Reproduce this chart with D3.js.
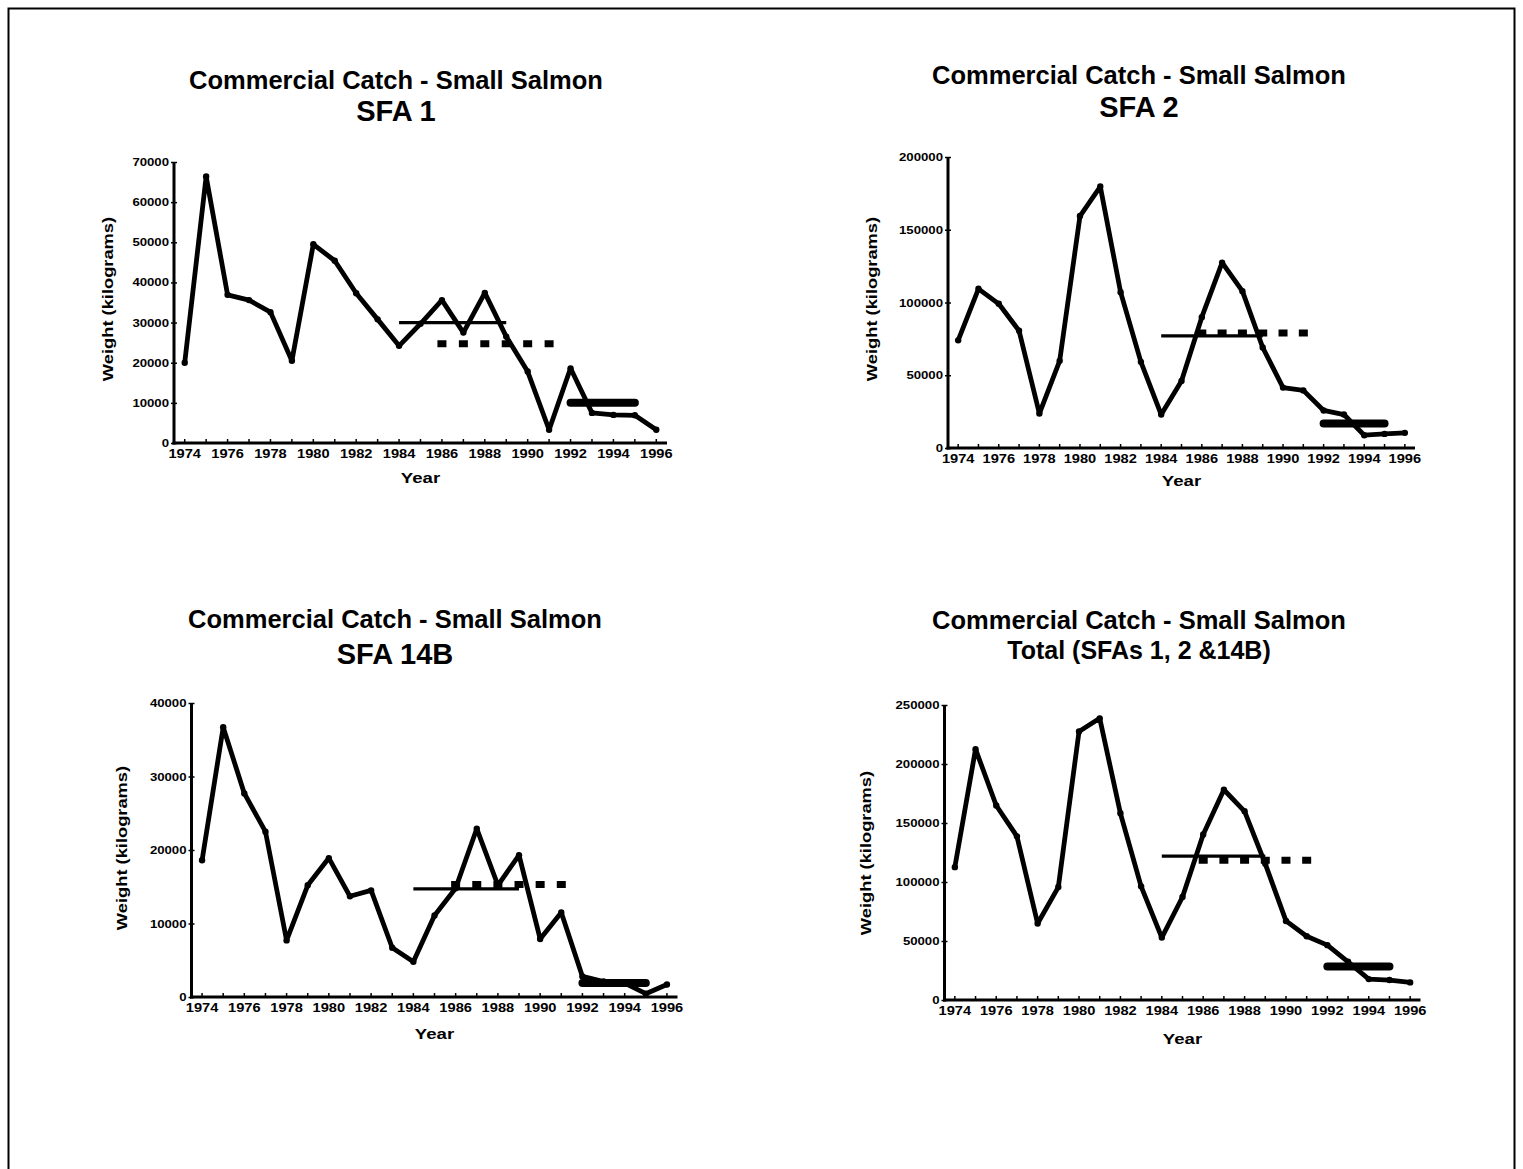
<!DOCTYPE html>
<html>
<head>
<meta charset="utf-8">
<script src="https://cdn.jsdelivr.net/npm/d3@7"></script>
<style>
  body { margin: 0; background: #fff; }
  svg { display: block; }
  text { font-family: "Liberation Sans", Arial, sans-serif; font-weight: bold; fill: #000; }
</style>
</head>
<body>
<svg id="chart" width="1523" height="1169"></svg>
<script>
// Commercial catch of small salmon, kg per year
const years = [1974, 1975, 1976, 1977, 1978, 1979, 1980, 1981, 1982, 1983, 1984, 1985,
               1986, 1987, 1988, 1989, 1990, 1991, 1992, 1993, 1994, 1995, 1996];
const yearLabels = ["1974", "1976", "1978", "1980", "1982", "1984", "1986", "1988", "1990", "1992", "1994", "1996"];

const sfa1   = [20000, 66400, 36900, 35600, 32600, 20500, 49500, 45400, 37300, 30800, 24200, 29700,
                35600, 27500, 37400, 26500, 17800, 3300, 18600, 7500, 7000, 6900, 3300];
const sfa2   = [74000, 109400, 99100, 80600, 23700, 59900, 159400, 179700, 107100, 59200, 23000, 46100,
                89900, 127400, 107800, 69100, 41500, 39600, 25800, 23000, 8800, 9700, 10400];
const sfa14b = [18600, 36700, 27700, 22500, 7700, 15200, 18900, 13700, 14500, 6700, 4800, 11100,
                14800, 22900, 15200, 19300, 7900, 11500, 2800, 2100, 1900, 450, 1700];
const total  = [112600, 212600, 164800, 138700, 64800, 95700, 227500, 238700, 158200, 96300, 52900, 87300,
                140200, 178200, 159900, 115400, 67000, 54000, 46500, 32400, 17700, 16900, 14900];

// Period averages: 1984-89 (solid), 1986-91 (dotted), 1992-95 (heavy)
const mean1984to1989 = [30000, 77000, 14700, 121900];
const mean1986to1991 = [24700, 79000, 15300, 118500];
const mean1992to1995 = [10000, 16800, 1900, 28400];

const titles    = ["Commercial Catch - Small Salmon", "Commercial Catch - Small Salmon",
                   "Commercial Catch - Small Salmon", "Commercial Catch - Small Salmon"];
const subtitles = ["SFA 1", "SFA 2", "SFA 14B", "Total (SFAs 1, 2 &14B)"];
const yMax  = [70000, 200000, 40000, 250000];
const yStep = [10000, 50000, 10000, 50000];
const series = [sfa1, sfa2, sfa14b, total];

// Panel frames
const layout = [
  { left: 174, right: 667, top: 162, bottom: 443, cx: 396, tY: 89, sY: 121, sSize: 29, wX: 108, wY: 299, yearY: 483 },
  { left: 948, right: 1415, top: 157, bottom: 448, cx: 1139, tY: 84, sY: 117, sSize: 29, wX: 872, wY: 299, yearY: 486 },
  { left: 191.5, right: 677.5, top: 703, bottom: 997, cx: 395, tY: 628, sY: 664, sSize: 29, wX: 122, wY: 848, yearY: 1039 },
  { left: 944.5, right: 1420.5, top: 705, bottom: 1000, cx: 1139, tY: 629, sY: 659, sSize: 25, wX: 866, wY: 853, yearY: 1044 }
];

const svg = d3.select("#chart");

// outer frame
svg.append("rect")
  .attr("x", 8.5).attr("y", 8.5).attr("width", 1506).attr("height", 1200)
  .attr("fill", "none").attr("stroke", "#000").attr("stroke-width", 2);

layout.forEach((L, i) => {
  const g = svg.append("g");
  const x = d3.scaleBand().domain(years).range([L.left, L.right]);
  const cxOf = yr => x(yr) + x.bandwidth() / 2;
  const y = d3.scaleLinear().domain([0, yMax[i]]).range([L.bottom, L.top]);
  const step = x.bandwidth();

  // titles
  g.append("text").attr("x", L.cx).attr("y", L.tY).attr("text-anchor", "middle")
    .style("font-size", "25.5px").text(titles[i]);
  g.append("text").attr("x", L.cx).attr("y", L.sY).attr("text-anchor", "middle")
    .style("font-size", L.sSize + "px").text(subtitles[i]);

  // y axis
  const yAxis = d3.axisLeft(y)
    .tickValues(d3.range(0, yMax[i] + 1, yStep[i]))
    .tickFormat(d3.format("d"))
    .tickSizeOuter(0).tickSizeInner(3).tickPadding(5);
  const ya = g.append("g").attr("transform", `translate(${L.left},0)`).call(yAxis);
  ya.select(".domain").attr("stroke", "#000").attr("stroke-width", 3)
    .attr("d", `M0,${L.top}V${L.bottom + 1.5}`);
  ya.selectAll(".tick line").attr("stroke", "#000").attr("stroke-width", 1.5).attr("x1", 3);
  ya.selectAll(".tick text")
    .style("font-size", "11px").style("font-family", null)
    .attr("transform", "scale(1.2,1)")
    .attr("x", -5 / 1.2);

  // x axis
  const xAxis = d3.axisBottom(x)
    .tickFormat(d => yearLabels.includes(String(d)) ? String(d) : "")
    .tickSizeOuter(0).tickSizeInner(-4).tickPadding(7);
  const xa = g.append("g").attr("transform", `translate(0,${L.bottom})`).call(xAxis);
  xa.select(".domain").attr("stroke", "#000").attr("stroke-width", 3)
    .attr("d", `M${L.left - 1.5},0H${L.right}`);
  xa.selectAll(".tick line").attr("stroke", "#000").attr("stroke-width", 1.5);
  xa.selectAll(".tick text")
    .style("font-size", "12px").style("font-family", null)
    .attr("transform", "scale(1.22,1)")
    .attr("y", 6).attr("dy", "0.71em");

  // axis titles
  g.append("text")
    .attr("transform", `translate(${(L.left + L.right) / 2},${L.yearY}) scale(1.2,1)`)
    .attr("text-anchor", "middle").style("font-size", "15.5px").text("Year");
  g.append("text")
    .attr("transform", `translate(${L.wX},${L.wY}) rotate(-90) scale(1.22,1)`)
    .attr("text-anchor", "middle").attr("dy", "0.35em")
    .style("font-size", "15px").text("Weight (kilograms)");

  // 1984-1989 average, thin solid
  g.append("line")
    .attr("x1", cxOf(1984)).attr("x2", cxOf(1989))
    .attr("y1", y(mean1984to1989[i])).attr("y2", y(mean1984to1989[i]))
    .attr("stroke", "#000").attr("stroke-width", 3.2);

  // 1986-1991 average, square dots one per year
  g.append("line")
    .attr("x1", cxOf(1986) - 4.5).attr("x2", cxOf(1991) + 4.5)
    .attr("y1", y(mean1986to1991[i])).attr("y2", y(mean1986to1991[i]))
    .attr("stroke", "#000").attr("stroke-width", 7)
    .attr("stroke-dasharray", `9,${step - 9}`);

  // 1992-1995 average, heavy bar
  g.append("line")
    .attr("x1", cxOf(1992)).attr("x2", cxOf(1995))
    .attr("y1", y(mean1992to1995[i])).attr("y2", y(mean1992to1995[i]))
    .attr("stroke", "#000").attr("stroke-width", 8).attr("stroke-linecap", "round");

  // catch series
  const data = years.map((yr, k) => ({ yr, v: series[i][k] }));
  g.append("path").datum(data)
    .attr("fill", "none").attr("stroke", "#000").attr("stroke-width", 4.8)
    .attr("stroke-linejoin", "round").attr("stroke-linecap", "round")
    .attr("d", d3.line().x(d => cxOf(d.yr)).y(d => y(d.v)));
  g.selectAll("circle.pt").data(data).enter().append("circle")
    .attr("class", "pt")
    .attr("cx", d => cxOf(d.yr)).attr("cy", d => y(d.v)).attr("r", 3.2)
    .attr("fill", "#000");
});
</script>
</body>
</html>
